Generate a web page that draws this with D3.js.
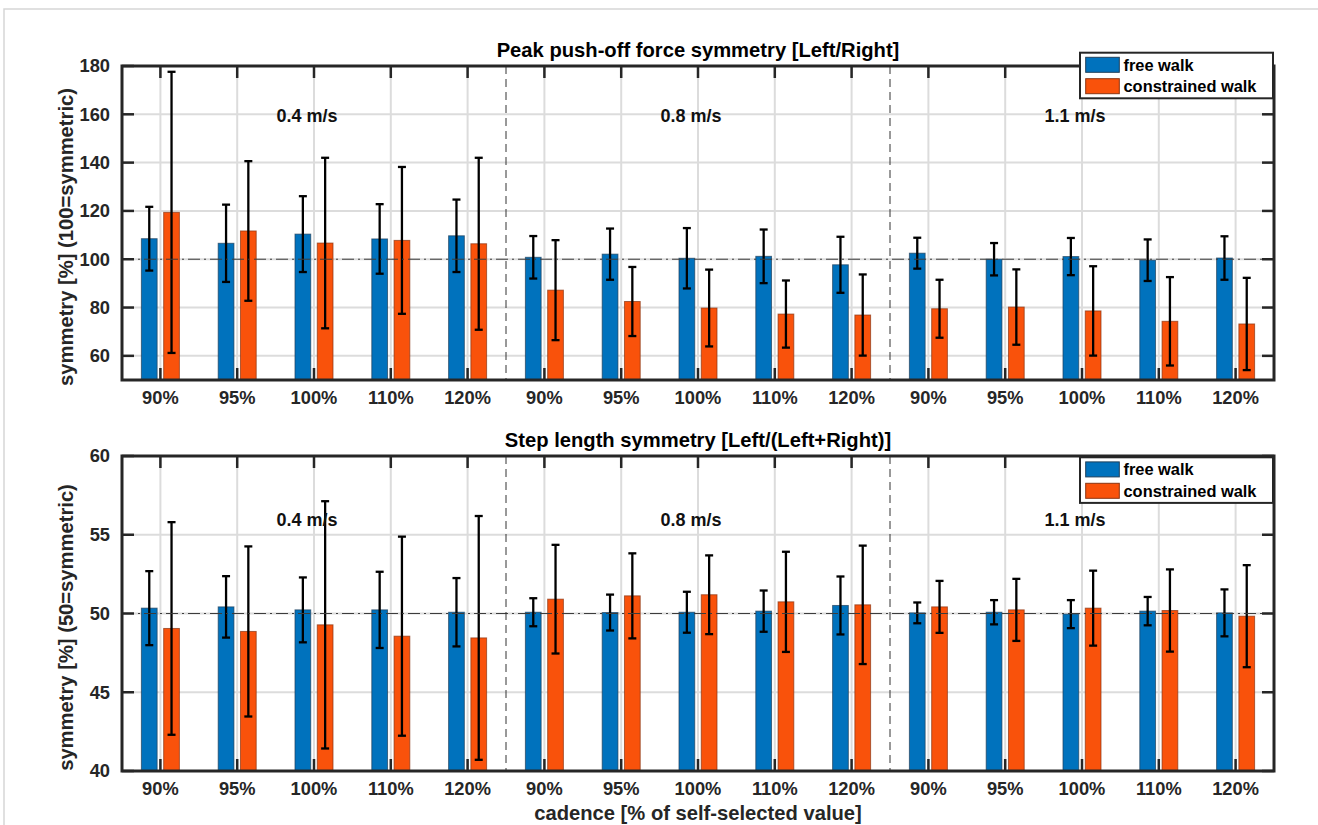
<!DOCTYPE html>
<html>
<head>
<meta charset="utf-8">
<script src="https://cdn.jsdelivr.net/npm/d3@7"></script>
<style>
  body { margin: 0; background: #fff; }
  svg text { font-family: "Liberation Sans", Arial, Helvetica, sans-serif; font-weight: bold; fill: #262626; }
</style>
</head>
<body>
<svg id="chart" width="1318" height="825"></svg>
<script>
// cadence levels, repeated for each walking speed
const cadences = ["90%", "95%", "100%", "110%", "120%"];
const speeds = ["0.4 m/s", "0.8 m/s", "1.1 m/s"];
const seriesNames = ["free walk", "constrained walk"];

// peak push-off force symmetry (mean, sd)
const forceFree = [108.5, 106.6, 110.4, 108.4, 109.7, 100.8, 102.1, 100.4, 101.2, 97.7, 102.5, 100.0, 101.1, 99.6, 100.5];
const forceFreeSd = [13.2, 16.0, 15.7, 14.4, 15.0, 8.8, 10.6, 12.5, 11.1, 11.6, 6.4, 6.7, 7.7, 8.6, 9.0];
const forceCon = [119.4, 111.7, 106.7, 107.8, 106.4, 87.2, 82.5, 79.8, 77.3, 76.9, 79.5, 80.2, 78.6, 74.3, 73.2];
const forceConSd = [58.2, 28.9, 35.3, 30.4, 35.6, 20.7, 14.3, 15.9, 13.9, 16.8, 12.0, 15.6, 18.5, 18.3, 19.1];

// step length symmetry (mean, sd)
const stepFree = [50.34, 50.42, 50.23, 50.23, 50.08, 50.08, 50.06, 50.08, 50.15, 50.51, 50.04, 50.08, 49.96, 50.15, 50.04];
const stepFreeSd = [2.35, 1.95, 2.06, 2.42, 2.17, 0.89, 1.14, 1.30, 1.31, 1.84, 0.66, 0.77, 0.89, 0.90, 1.49];
const stepCon = [49.05, 48.86, 49.28, 48.56, 48.45, 50.91, 51.12, 51.19, 50.74, 50.55, 50.42, 50.23, 50.34, 50.19, 49.83];
const stepConSd = [6.75, 5.40, 7.85, 6.32, 7.74, 3.45, 2.70, 2.50, 3.18, 3.76, 1.65, 1.97, 2.38, 2.61, 3.24];

const forceTicks = [60, 80, 100, 120, 140, 160, 180];
const stepTicks = [40, 45, 50, 55, 60];

const colors = ["#0072BD", "#F9520B"];
const ink = "#262626";

const svg = d3.select("#chart");

// faint figure border
svg.append("path")
  .attr("d", "M4,825V9H1318")
  .attr("fill", "none")
  .attr("stroke", "#d6d6d6")
  .attr("stroke-width", 1.5);

const labels = speeds.flatMap(() => cadences);
const idx = d3.range(1, labels.length + 1);

const x = d3.scaleLinear().domain([0.5, labels.length + 0.5]).range([122, 1274]);
const barOff = 0.145, barW = 0.205;

function drawPanel(p) {
  const y = d3.scaleLinear().domain(p.domain).range([p.bottom, p.top]);
  const g = svg.append("g");
  const x0 = x.range()[0], x1 = x.range()[1];

  // grid
  g.selectAll(".gx").data(idx).enter().append("line")
    .attr("x1", d => x(d)).attr("x2", d => x(d))
    .attr("y1", p.top).attr("y2", p.bottom)
    .attr("stroke", "#dcdcdc").attr("stroke-width", 2);
  g.selectAll(".gy").data(p.ticks).enter().append("line")
    .attr("x1", x0).attr("x2", x1)
    .attr("y1", d => y(d)).attr("y2", d => y(d))
    .attr("stroke", "#dcdcdc").attr("stroke-width", 2);

  // bars + error bars
  const series = [
    { mean: p.free, sd: p.freeSd, off: -barOff, color: colors[0], edge: "#1f3f5a" },
    { mean: p.con, sd: p.conSd, off: barOff, color: colors[1], edge: "#8a3412" }
  ];
  series.forEach(s => {
    const rows = idx.map((c, i) => ({ c: c, v: s.mean[i], sd: s.sd[i] }));
    g.selectAll(null).data(rows).enter().append("rect")
      .attr("x", d => x(d.c + s.off - barW / 2))
      .attr("width", x(barW) - x(0))
      .attr("y", d => y(d.v))
      .attr("height", d => p.bottom - y(d.v))
      .attr("fill", s.color)
      .attr("stroke", s.edge).attr("stroke-opacity", 0.7).attr("stroke-width", 1);

    const eb = g.selectAll(null).data(rows).enter().append("g")
      .attr("stroke", "#000").attr("stroke-width", 2.3);
    eb.append("line")
      .attr("x1", d => x(d.c + s.off)).attr("x2", d => x(d.c + s.off))
      .attr("y1", d => y(d.v + d.sd)).attr("y2", d => y(d.v - d.sd));
    [1, -1].forEach(sign => {
      eb.append("line")
        .attr("x1", d => x(d.c + s.off) - 4).attr("x2", d => x(d.c + s.off) + 4)
        .attr("y1", d => y(d.v + sign * d.sd)).attr("y2", d => y(d.v + sign * d.sd));
    });
  });

  // symmetric reference line
  g.append("line")
    .attr("x1", x0).attr("x2", x1)
    .attr("y1", y(p.ref)).attr("y2", y(p.ref))
    .attr("stroke", "#3c3c3c").attr("stroke-width", 1)
    .attr("stroke-dasharray", "12,4,2,4");

  // speed separators
  const seps = d3.range(1, speeds.length).map(k => k * cadences.length + 0.5);
  g.selectAll(null).data(seps).enter().append("line")
    .attr("x1", d => x(d)).attr("x2", d => x(d))
    .attr("y1", p.top).attr("y2", p.bottom)
    .attr("stroke", "#333").attr("stroke-width", 1)
    .attr("stroke-dasharray", "8,5");

  // speed labels
  g.selectAll(null).data(speeds).enter().append("text")
    .attr("x", (d, k) => x(k * cadences.length + (cadences.length + 1) / 2) - 7)
    .attr("y", y(p.speedY))
    .attr("text-anchor", "middle")
    .style("font-size", "18px").style("fill", "#111")
    .text(d => d);

  // ticks (inward)
  const tl = 12;
  g.selectAll(null).data(idx).enter().append("line")
    .attr("x1", d => x(d)).attr("x2", d => x(d))
    .attr("y1", p.top).attr("y2", p.top + tl)
    .attr("stroke", ink).attr("stroke-width", 2.5);
  g.selectAll(null).data(idx).enter().append("line")
    .attr("x1", d => x(d)).attr("x2", d => x(d))
    .attr("y1", p.bottom).attr("y2", p.bottom - tl)
    .attr("stroke", ink).attr("stroke-width", 2.5);
  g.selectAll(null).data(p.ticks).enter().append("line")
    .attr("x1", x0).attr("x2", x0 + tl)
    .attr("y1", d => y(d)).attr("y2", d => y(d))
    .attr("stroke", ink).attr("stroke-width", 2.5);
  g.selectAll(null).data(p.ticks).enter().append("line")
    .attr("x1", x1).attr("x2", x1 - tl)
    .attr("y1", d => y(d)).attr("y2", d => y(d))
    .attr("stroke", ink).attr("stroke-width", 2.5);

  // frame
  g.append("rect")
    .attr("x", x0).attr("y", p.top)
    .attr("width", x1 - x0).attr("height", p.bottom - p.top)
    .attr("fill", "none").attr("stroke", ink).attr("stroke-width", 3);

  // tick labels
  g.selectAll(null).data(p.ticks).enter().append("text")
    .attr("x", x0 - 12).attr("y", d => y(d)).attr("dy", "0.35em")
    .attr("text-anchor", "end").style("font-size", "18.3px")
    .text(d => d);
  g.selectAll(null).data(idx).enter().append("text")
    .attr("x", d => x(d)).attr("y", p.bottom + 24)
    .attr("text-anchor", "middle").style("font-size", "18.3px")
    .text(d => labels[d - 1]);

  // title and y label
  g.append("text")
    .attr("x", (x0 + x1) / 2).attr("y", p.top - 9)
    .attr("text-anchor", "middle").style("font-size", "20.2px").style("fill", "#000")
    .text(p.title);
  g.append("text")
    .attr("transform", `translate(73,${(p.top + p.bottom) / 2 + 14}) rotate(-90)`)
    .attr("text-anchor", "middle").style("font-size", "20.2px")
    .text(p.ylabel);

  // legend
  const lg = g.append("g").attr("transform", `translate(1080,${p.legendTop})`);
  lg.append("rect")
    .attr("width", 193).attr("height", 45.6)
    .attr("fill", "#fff").attr("stroke", ink).attr("stroke-width", 2);
  seriesNames.forEach((name, k) => {
    lg.append("rect")
      .attr("x", 5.7).attr("y", 4.6 + k * 21.4)
      .attr("width", 33.6).attr("height", 15)
      .attr("fill", colors[k]).attr("stroke", k ? "#8a3412" : "#1f3f5a").attr("stroke-width", 1);
    lg.append("text")
      .attr("x", 43.5).attr("y", 12.1 + k * 21.4).attr("dy", "0.35em")
      .style("font-size", "16.4px").style("fill", "#000")
      .text(name);
  });
}

drawPanel({
  top: 66, bottom: 380, domain: [50, 180], ticks: forceTicks, ref: 100, speedY: 157,
  free: forceFree, freeSd: forceFreeSd, con: forceCon, conSd: forceConSd,
  title: "Peak push-off force symmetry [Left/Right]",
  ylabel: "symmetry [%] (100=symmetric)", legendTop: 52.7
});

drawPanel({
  top: 456, bottom: 771, domain: [40, 60], ticks: stepTicks, ref: 50, speedY: 55.55,
  free: stepFree, freeSd: stepFreeSd, con: stepCon, conSd: stepConSd,
  title: "Step length symmetry [Left/(Left+Right)]",
  ylabel: "symmetry [%] (50=symmetric)", legendTop: 457.3
});

svg.append("text")
  .attr("x", (x.range()[0] + x.range()[1]) / 2).attr("y", 820)
  .attr("text-anchor", "middle").style("font-size", "20.2px")
  .text("cadence [% of self-selected value]");
</script>
</body>
</html>
